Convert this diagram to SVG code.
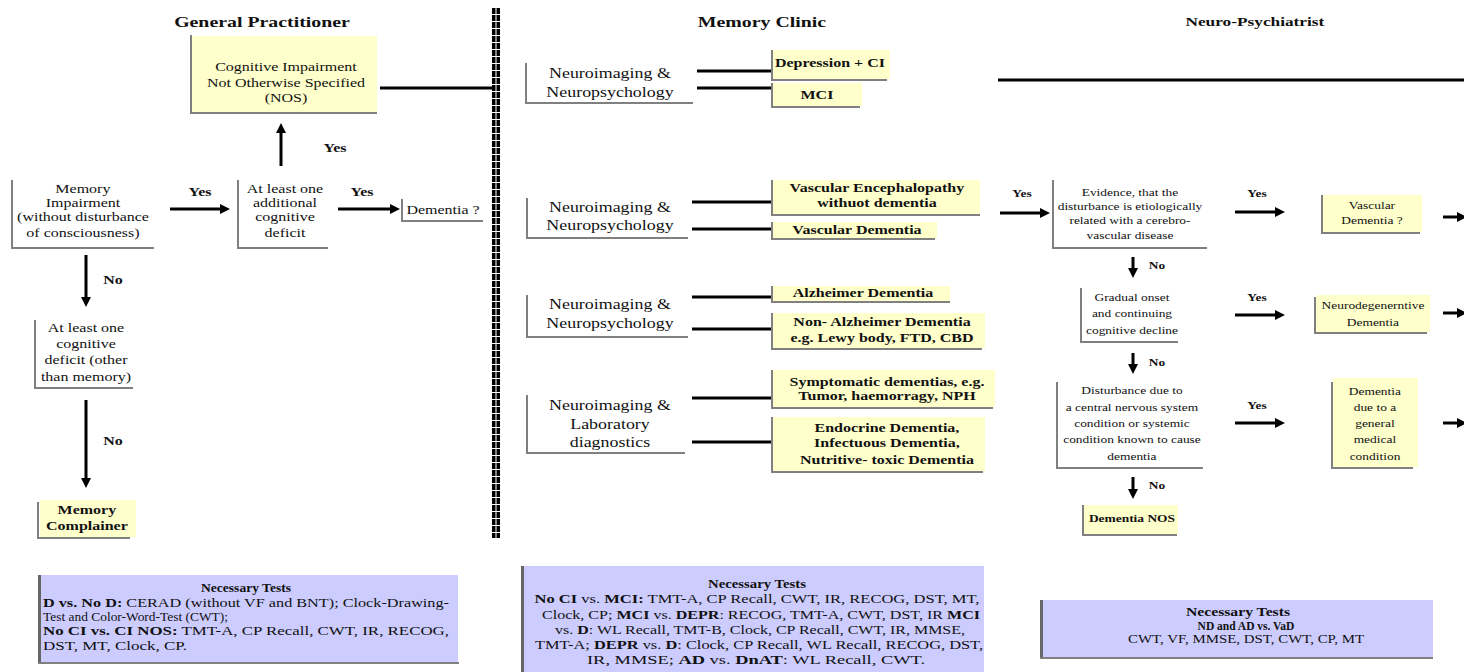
<svg xmlns="http://www.w3.org/2000/svg" width="1464" height="672" viewBox="0 0 1464 672">
<style>
text { font-family: "Liberation Serif", "Times New Roman", serif; fill: #111; }
.s { font-size: 12.5px; text-anchor: middle; transform-box: fill-box; transform-origin: center; transform: scaleX(1.28); }
.sm { font-size: 10.5px; }
.big { font-size: 14px; }
.bold { font-weight: bold; }
.title { font-size: 15.5px; font-weight: bold; }
.y { fill: #ffffcc; }
.bd { fill: none; stroke: #808080; stroke-width: 2; }
.ln { fill: none; stroke: #000; stroke-width: 3; }
.ar { fill: none; stroke: #000; stroke-width: 3; marker-end: url(#ah); }
.tb { fill: #ccccff; }
.tbd { fill: none; stroke: #666; stroke-width: 3; }
.tt { font-size: 12px; }
.tl { font-size: 12.5px; }
.th { font-size: 13px; font-weight: bold; text-anchor: middle; }
</style>
<defs>
<marker id="ah" viewBox="0 0 10 10" refX="2" refY="5" markerWidth="10" markerHeight="10" markerUnits="userSpaceOnUse" orient="auto">
<path d="M0,0 L10,5 L0,10 z" fill="#000"/>
</marker>
<pattern id="dv" x="492" y="8" width="8" height="7" patternUnits="userSpaceOnUse">
<rect width="3.5" height="6" fill="#000"/>
<rect x="4.5" width="3.5" height="6" fill="#000"/>
</pattern>
</defs>
<rect width="1464" height="672" fill="#fff"/>

<!-- Titles -->
<g id="titles">
<text class="s title" x="262" y="27">General Practitioner</text>
<text class="s title" x="762" y="27">Memory Clinic</text>
<text class="s title" x="1255" y="26" style="font-size:13.5px">Neuro-Psychiatrist</text>
</g>

<!-- Divider -->
<rect id="divider" x="492" y="8" width="8" height="530" fill="url(#dv)"/>

<!-- Connectors -->
<g id="connectors">
<line class="ln" x1="380" y1="88" x2="494" y2="88"/>
<line class="ar" x1="281" y1="166" x2="281" y2="131"/>
<line class="ar" x1="170" y1="209" x2="222" y2="209"/>
<line class="ar" x1="338" y1="209" x2="392" y2="209"/>
<line class="ar" x1="86" y1="255" x2="86" y2="299"/>
<line class="ar" x1="86" y1="400" x2="86" y2="480"/>
<line class="ln" x1="697" y1="71" x2="773" y2="71"/>
<line class="ln" x1="697" y1="88" x2="773" y2="88"/>
<line class="ln" x1="998" y1="80" x2="1464" y2="80"/>
<line class="ln" x1="692" y1="202" x2="773" y2="202"/>
<line class="ln" x1="692" y1="229" x2="773" y2="229"/>
<line class="ln" x1="692" y1="297" x2="773" y2="297"/>
<line class="ln" x1="692" y1="329" x2="773" y2="329"/>
<line class="ln" x1="692" y1="398" x2="773" y2="398"/>
<line class="ln" x1="692" y1="442" x2="773" y2="442"/>
<line class="ar" x1="1000" y1="213" x2="1042" y2="213"/>
<line class="ar" x1="1235" y1="212" x2="1277" y2="212"/>
<line class="ar" x1="1443" y1="217" x2="1459" y2="217"/>
<line class="ar" x1="1133" y1="257" x2="1133" y2="270"/>
<line class="ar" x1="1235" y1="315" x2="1277" y2="315"/>
<line class="ar" x1="1443" y1="313" x2="1459" y2="313"/>
<line class="ar" x1="1133" y1="353" x2="1133" y2="366"/>
<line class="ar" x1="1235" y1="423" x2="1277" y2="423"/>
<line class="ar" x1="1443" y1="423" x2="1459" y2="423"/>
<line class="ar" x1="1133" y1="477" x2="1133" y2="491"/>
<g class="labels">
<text class="s bold" x="335" y="152">Yes</text>
<text class="s bold" x="200" y="196">Yes</text>
<text class="s bold" x="362" y="196">Yes</text>
<text class="s bold" x="113" y="284">No</text>
<text class="s bold" x="113" y="445">No</text>
<text class="s bold sm" x="1022" y="197">Yes</text>
<text class="s bold sm" x="1257" y="197">Yes</text>
<text class="s bold sm" x="1157" y="269">No</text>
<text class="s bold sm" x="1257" y="301">Yes</text>
<text class="s bold sm" x="1157" y="366">No</text>
<text class="s bold sm" x="1257" y="409">Yes</text>
<text class="s bold sm" x="1157" y="489">No</text>
</g>
</g>

<!-- General Practitioner nodes -->
<g id="nos">
<rect class="y" x="192" y="36" width="185" height="76"/>
<path class="bd" d="M191,35 V113 H377"/>
<text class="s" x="286" y="71">Cognitive Impairment</text>
<text class="s" x="286" y="87">Not Otherwise Specified</text>
<text class="s" x="286" y="102">(NOS)</text>
</g>
<g id="memory-impairment">
<path class="bd" d="M12,180 V248 H154"/>
<text class="s" x="83" y="193">Memory</text>
<text class="s" x="83" y="207">Impairment</text>
<text class="s" x="83" y="221">(without disturbance</text>
<text class="s" x="83" y="237">of consciousness)</text>
</g>
<g id="additional-deficit">
<path class="bd" d="M238,180 V248 H328"/>
<text class="s" x="285" y="193">At least one</text>
<text class="s" x="285" y="207">additional</text>
<text class="s" x="285" y="221">cognitive</text>
<text class="s" x="285" y="237">deficit</text>
</g>
<g id="dementia-q">
<path class="bd" d="M402,199 V221 H483"/>
<text class="s" x="443" y="214">Dementia ?</text>
</g>
<g id="other-deficit">
<path class="bd" d="M35,320 V388 H133"/>
<text class="s" x="86" y="332">At least one</text>
<text class="s" x="86" y="348">cognitive</text>
<text class="s" x="86" y="364">deficit (other</text>
<text class="s" x="86" y="381">than memory)</text>
</g>
<g id="memory-complainer">
<rect class="y" x="40" y="500" width="96" height="37"/>
<path class="bd" d="M38,502 V538 H130"/>
<text class="s bold" x="87" y="514">Memory</text>
<text class="s bold" x="87" y="530">Complainer</text>
</g>

<!-- Memory Clinic nodes -->
<g id="neuro1">
<path class="bd" d="M526,63 V103 H693"/>
<text class="s big" x="610" y="78">Neuroimaging &amp;</text>
<text class="s big" x="610" y="97">Neuropsychology</text>
</g>
<g id="depression-ci">
<rect class="y" x="773" y="50" width="117" height="29"/>
<path class="bd" d="M772,50 V80 H887"/>
<text class="s bold" x="830" y="67">Depression + CI</text>
</g>
<g id="mci">
<rect class="y" x="773" y="83" width="89" height="23"/>
<path class="bd" d="M772,83 V107 H860"/>
<text class="s bold" x="817" y="99">MCI</text>
</g>
<g id="neuro2">
<path class="bd" d="M527,198 V238 H688"/>
<text class="s big" x="610" y="212">Neuroimaging &amp;</text>
<text class="s big" x="610" y="230">Neuropsychology</text>
</g>
<g id="vasc-enc">
<rect class="y" x="773" y="180" width="207" height="34"/>
<path class="bd" d="M772,180 V215 H980"/>
<text class="s bold" x="877" y="192">Vascular Encephalopathy</text>
<text class="s bold" x="877" y="207">withuot dementia</text>
</g>
<g id="vasc-dem">
<rect class="y" x="773" y="222" width="164" height="16"/>
<path class="bd" d="M772,222 V239 H935"/>
<text class="s bold" x="857" y="234">Vascular Dementia</text>
</g>
<g id="neuro3">
<path class="bd" d="M527,295 V337 H688"/>
<text class="s big" x="610" y="309">Neuroimaging &amp;</text>
<text class="s big" x="610" y="328">Neuropsychology</text>
</g>
<g id="alz">
<rect class="y" x="773" y="286" width="177" height="15"/>
<path class="bd" d="M772,286 V302 H950"/>
<text class="s bold" x="863" y="297">Alzheimer Dementia</text>
</g>
<g id="non-alz">
<rect class="y" x="773" y="313" width="212" height="35"/>
<path class="bd" d="M772,313 V349 H982"/>
<text class="s bold" x="882" y="326">Non- Alzheimer  Dementia</text>
<text class="s bold" x="882" y="342">e.g. Lewy body, FTD, CBD</text>
</g>
<g id="neuro4">
<path class="bd" d="M527,395 V453 H685"/>
<text class="s big" x="610" y="410">Neuroimaging &amp;</text>
<text class="s big" x="610" y="429">Laboratory</text>
<text class="s big" x="610" y="447">diagnostics</text>
</g>
<g id="symptomatic">
<rect class="y" x="773" y="370" width="222" height="37"/>
<path class="bd" d="M772,370 V408 H993"/>
<text class="s bold" x="887" y="386">Symptomatic dementias, e.g.</text>
<text class="s bold" x="887" y="400">Tumor, haemorragy, NPH</text>
</g>
<g id="endocrine">
<rect class="y" x="773" y="417" width="212" height="54"/>
<path class="bd" d="M772,417 V472 H983"/>
<text class="s bold" x="887" y="432">Endocrine Dementia,</text>
<text class="s bold" x="887" y="447">Infectuous Dementia,</text>
<text class="s bold" x="887" y="464">Nutritive- toxic Dementia</text>
</g>

<!-- Neuro-Psychiatrist nodes -->
<g id="evidence">
<path class="bd" d="M1053,180 V248 H1207"/>
<text class="s sm" x="1130" y="196">Evidence, that the</text>
<text class="s sm" x="1130" y="210">disturbance is etiologically</text>
<text class="s sm" x="1130" y="224">related with a cerebro-</text>
<text class="s sm" x="1130" y="239">vascular disease</text>
</g>
<g id="vascular-q">
<rect class="y" x="1323" y="195" width="99" height="37"/>
<path class="bd" d="M1322,195 V233 H1420"/>
<text class="s sm" x="1372" y="209">Vascular</text>
<text class="s sm" x="1372" y="224">Dementia ?</text>
</g>
<g id="gradual">
<path class="bd" d="M1081,288 V342 H1178"/>
<text class="s sm" x="1132" y="301">Gradual onset</text>
<text class="s sm" x="1132" y="317">and continuing</text>
<text class="s sm" x="1132" y="334">cognitive decline</text>
</g>
<g id="neurodegenerative">
<rect class="y" x="1316" y="295" width="114" height="37"/>
<path class="bd" d="M1315,297 V333 H1427"/>
<text class="s sm" x="1373" y="309">Neurodegenerntive</text>
<text class="s sm" x="1373" y="326">Dementia</text>
</g>
<g id="disturbance">
<path class="bd" d="M1057,382 V468 H1203"/>
<text class="s sm" x="1132" y="394">Disturbance due to</text>
<text class="s sm" x="1132" y="411">a central nervous system</text>
<text class="s sm" x="1132" y="427">condition or systemic</text>
<text class="s sm" x="1132" y="443">condition known to cause</text>
<text class="s sm" x="1132" y="460">dementia</text>
</g>
<g id="general-medical">
<rect class="y" x="1333" y="378" width="85" height="89"/>
<path class="bd" d="M1332,382 V468 H1413"/>
<text class="s sm" x="1375" y="395">Dementia</text>
<text class="s sm" x="1375" y="411">due to a</text>
<text class="s sm" x="1375" y="427">general</text>
<text class="s sm" x="1375" y="443">medical</text>
<text class="s sm" x="1375" y="460">condition</text>
</g>
<g id="dementia-nos">
<rect class="y" x="1084" y="505" width="94" height="29"/>
<path class="bd" d="M1083,505 V535 H1177"/>
<text class="s sm bold" x="1132" y="522">Dementia NOS</text>
</g>

<!-- Tests boxes -->
<g id="tests-gp">
<rect class="tb" x="38" y="575" width="420" height="87"/>
<path class="tbd" d="M39.5,575 V662"/>
<path class="bd" d="M38,663 H459"/>
<text class="th" x="246" y="592" textLength="90" lengthAdjust="spacingAndGlyphs">Necessary Tests</text>
<text class="tl" x="43" y="607" textLength="406" lengthAdjust="spacingAndGlyphs"><tspan font-weight="bold">D vs. No D:</tspan> CERAD (without VF and BNT);  Clock-Drawing-</text>
<text class="tl" x="43" y="621" textLength="185" lengthAdjust="spacingAndGlyphs">Test and Color-Word-Test (CWT);</text>
<text class="tl" x="43" y="635" textLength="406" lengthAdjust="spacingAndGlyphs"><tspan font-weight="bold">No CI vs. CI NOS:</tspan> TMT-A, CP Recall, CWT, IR, RECOG,</text>
<text class="tl" x="43" y="650" textLength="144" lengthAdjust="spacingAndGlyphs">DST, MT, Clock, CP.</text>
</g>
<g id="tests-mc">
<rect class="tb" x="521" y="566" width="463" height="106"/>
<path class="tbd" d="M522.5,566 V672"/>
<text class="th" x="757" y="588" textLength="98" lengthAdjust="spacingAndGlyphs">Necessary Tests</text>
<text class="tt" x="757" y="603" text-anchor="middle" textLength="445" lengthAdjust="spacingAndGlyphs"><tspan font-weight="bold">No CI</tspan> vs. <tspan font-weight="bold">MCI:</tspan> TMT-A, CP Recall, CWT, IR, RECOG, DST, MT,</text>
<text class="tt" x="761" y="619" text-anchor="middle" textLength="438" lengthAdjust="spacingAndGlyphs">Clock, CP; <tspan font-weight="bold">MCI</tspan> vs. <tspan font-weight="bold">DEPR</tspan>: RECOG, TMT-A, CWT, DST, IR <tspan font-weight="bold">MCI</tspan></text>
<text class="tt" x="760" y="634" text-anchor="middle" textLength="410" lengthAdjust="spacingAndGlyphs">vs. <tspan font-weight="bold">D</tspan>: WL Recall, TMT-B, Clock, CP Recall, CWT, IR, MMSE,</text>
<text class="tt" x="759" y="649" text-anchor="middle" textLength="448" lengthAdjust="spacingAndGlyphs">TMT-A; <tspan font-weight="bold">DEPR</tspan> vs. <tspan font-weight="bold">D</tspan>: Clock, CP Recall, WL Recall, RECOG, DST,</text>
<text class="tt" x="756" y="664" text-anchor="middle" textLength="338" lengthAdjust="spacingAndGlyphs">IR, MMSE; <tspan font-weight="bold">AD</tspan> vs. <tspan font-weight="bold">DnAT</tspan>: WL Recall, CWT.</text>
</g>
<g id="tests-np">
<rect class="tb" x="1040" y="600" width="393" height="57"/>
<path class="tbd" d="M1041.5,600 V657"/>
<path class="bd" d="M1040,658 H1433"/>
<text class="th" x="1238" y="616" textLength="104" lengthAdjust="spacingAndGlyphs">Necessary Tests</text>
<text x="1246" y="630" text-anchor="middle" font-weight="bold" style="font-size:11.5px">ND and AD vs. VaD</text>
<text class="tt" x="1246" y="643" text-anchor="middle" textLength="236" lengthAdjust="spacingAndGlyphs">CWT, VF, MMSE, DST, CWT, CP, MT</text>
</g>
</svg>
